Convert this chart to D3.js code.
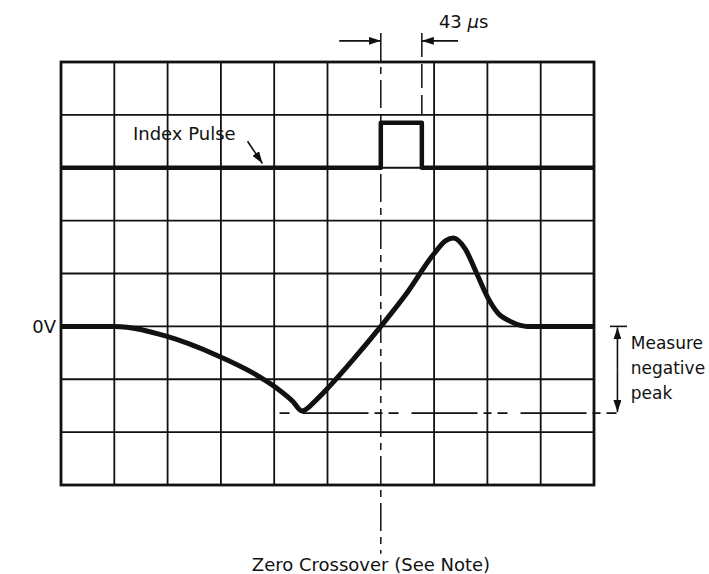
<!DOCTYPE html>
<html><head><meta charset="utf-8">
<script src="https://cdn.jsdelivr.net/npm/d3@7"></script>
<style>
body{margin:0;background:#fff}
svg{display:block}
text{font-family:"DejaVu Sans",sans-serif;font-size:18px;fill:#111}
</style>
</head><body><svg id="c" width="709" height="574"></svg>
<script>
// Graticule divisions
const xDivisions = d3.range(0, 11);
const yDivisions = d3.range(-3, 6);
const centerDivision = 6;
// Index pulse trace (divisions)
const pulseX = [0, 6, 6, 6.77, 6.77, 10];
const pulseY = [3, 3, 3.85, 3.85, 3, 3];
// Read-back signal trace (divisions, 0 = 0V)
const waveX = [0, 1.0, 1.99, 2.93, 3.60, 4.05, 4.35, 4.52, 4.80, 5.05, 5.48, 6.0, 6.49, 6.98, 7.22, 7.36, 7.58, 7.80, 8.01, 8.19, 8.44, 8.62, 8.75, 10];
const waveY = [0, 0, -0.19, -0.55, -0.88, -1.17, -1.42, -1.60, -1.38, -1.12, -0.63, 0, 0.63, 1.35, 1.62, 1.67, 1.47, 1.0, 0.54, 0.26, 0.09, 0.02, 0, 0];
const negativePeak = -1.64;
const pulseWidthLabel = "43 ";
const labels = {zero: "0V", index: "Index Pulse", crossover: "Zero Crossover (See Note)", measure: ["Measure", "negative", "peak"]};

const svg = d3.select("#c");
const x = d3.scaleLinear().domain([0, 10]).range([61, 594]);
const y = d3.scaleLinear().domain([-3, 5]).range([485, 62]);

const defs = svg.append("defs");
defs.append("marker").attr("id", "ah").attr("viewBox", "0 0 12 8").attr("refX", 12).attr("refY", 4)
  .attr("markerWidth", 12).attr("markerHeight", 8).attr("markerUnits", "userSpaceOnUse").attr("orient", "auto")
  .append("path").attr("d", "M0,0L12,4L0,8Z").attr("fill", "#111");

// grid
const g = svg.append("g").attr("stroke", "#111").attr("fill", "none");
g.selectAll("line.h").data(yDivisions).join("line").attr("class", "h")
  .attr("x1", x(0)).attr("x2", x(10)).attr("y1", d => y(d)).attr("y2", d => y(d)).attr("stroke-width", 1.8);
g.selectAll("line.v").data(xDivisions.filter(d => d !== centerDivision)).join("line").attr("class", "v")
  .attr("y1", y(5)).attr("y2", y(-3)).attr("x1", d => x(d)).attr("x2", d => x(d)).attr("stroke-width", 1.8);
g.append("rect").attr("x", x(0)).attr("y", y(5)).attr("width", x(10) - x(0)).attr("height", y(-3) - y(5)).attr("stroke-width", 2.8);

// center dash-dot line
svg.append("line").attr("x1", x(centerDivision)).attr("x2", x(centerDivision))
  .attr("y1", y(5.55)).attr("y2", y(-4.3)).attr("stroke", "#111").attr("stroke-width", 1.5)
  .attr("stroke-dasharray", "28,6,7,6");
// pulse end marker
svg.append("line").attr("x1", x(6.77)).attr("x2", x(6.77))
  .attr("y1", y(5.55)).attr("y2", y(4.0)).attr("stroke", "#111").attr("stroke-width", 1.5)
  .attr("stroke-dasharray", "24,7");

// negative peak dash-dot line
svg.append("line").attr("x1", x(4.1)).attr("x2", x(10.62)).attr("y1", y(negativePeak)).attr("y2", y(negativePeak))
  .attr("stroke", "#111").attr("stroke-width", 1.6).attr("stroke-dasharray", "10,13,66,6,8,6");

// traces
const line = d3.line().x(d => x(d[0])).y(d => y(d[1]));
svg.append("path").datum(d3.zip(pulseX, pulseY)).attr("d", line)
  .attr("fill", "none").attr("stroke", "#111").attr("stroke-width", 4.5).attr("stroke-linejoin", "round");
svg.append("path").datum(d3.zip(waveX, waveY)).attr("d", line.curve(d3.curveMonotoneX))
  .attr("fill", "none").attr("stroke", "#111").attr("stroke-width", 5).attr("stroke-linejoin", "round");

// 43 us arrows
const arrowY = 5.40;
svg.append("line").attr("x1", x(5.22)).attr("x2", x(6)).attr("y1", y(arrowY)).attr("y2", y(arrowY))
  .attr("stroke", "#111").attr("stroke-width", 1.6).attr("marker-end", "url(#ah)");
svg.append("line").attr("x1", x(7.45)).attr("x2", x(6.77)).attr("y1", y(arrowY)).attr("y2", y(arrowY))
  .attr("stroke", "#111").attr("stroke-width", 1.6).attr("marker-end", "url(#ah)");
const t43 = svg.append("text").attr("x", x(7.09)).attr("y", 28);
t43.append("tspan").text(pulseWidthLabel);
t43.append("tspan").attr("font-style", "italic").text("\u03bc");
t43.append("tspan").text("s");

// Index pulse label
svg.append("text").attr("x", x(1.35)).attr("y", y(3.53)).text(labels.index);
svg.append("line").attr("x1", x(3.5)).attr("y1", y(3.5)).attr("x2", x(3.78)).attr("y2", y(3.08))
  .attr("stroke", "#111").attr("stroke-width", 1.6).attr("marker-end", "url(#ah)");

// 0V
svg.append("text").attr("x", 56).attr("y", y(0)).attr("dy", "0.36em").attr("text-anchor", "end").text(labels.zero);

// measure negative peak
svg.append("line").attr("x1", x(10.3)).attr("x2", x(10.62)).attr("y1", y(0)).attr("y2", y(0))
  .attr("stroke", "#111").attr("stroke-width", 1.6);
const mx = x(10.44);
svg.append("line").attr("x1", mx).attr("x2", mx).attr("y1", y(-0.82)).attr("y2", y(0) + 1)
  .attr("stroke", "#111").attr("stroke-width", 1.6).attr("marker-end", "url(#ah)");
svg.append("line").attr("x1", mx).attr("x2", mx).attr("y1", y(-0.82)).attr("y2", y(negativePeak) - 1)
  .attr("stroke", "#111").attr("stroke-width", 1.6).attr("marker-end", "url(#ah)");
svg.append("g").selectAll("text").data(labels.measure).join("text")
  .attr("x", x(10.69)).attr("y", (d, i) => 349 + i * 25).style("font-size", "17px").text(d => d);

// zero crossover label
svg.append("text").attr("x", 371).attr("y", 571).attr("text-anchor", "middle").text(labels.crossover);
</script>
</body></html>
